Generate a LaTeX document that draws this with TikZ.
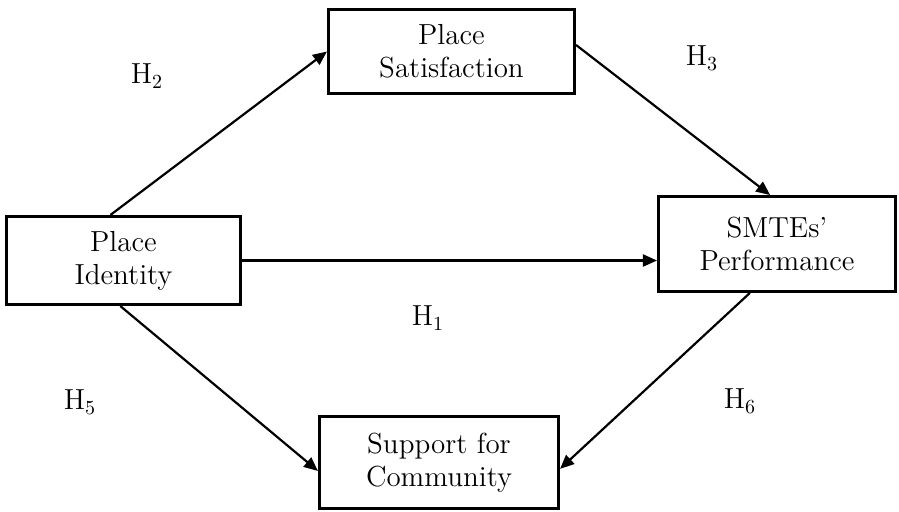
\documentclass[tikz,border=0pt]{standalone}
\usepackage{fontspec}
\usepackage{amsmath}
\usetikzlibrary{arrows.meta}

\tikzset{
  box/.style={rectangle, draw, line width=1.65pt, align=center, inner sep=0pt},
  arr/.style={-{Triangle[length=7pt,width=6pt]}, line width=1.1pt},
}

\begin{document}
\begin{tikzpicture}[x=0.5pt, y=-0.5pt, font=\fontsize{14.5}{16.5}\selectfont]
\useasboundingbox (0,0) rectangle (899,511);

\node (iden) at (123.5,260.5) [box, minimum width=116.9pt, minimum height=43.9pt] {Place\\Identity};
\node (sat) at (451.5,51.5) [box, minimum width=122.9pt, minimum height=41.9pt] {Place\\Satisfaction};
\node (smtes) at (777,244) [box, minimum width=118.4pt, minimum height=47.3pt] {SMTEs'\\Performance};
\node (supp) at (439,462.5) [box, minimum width=119.4pt, minimum height=45.9pt] {Support for\\Community};

	\draw[arr] (iden.106) -- (sat.west);
	\draw[arr] (sat.3) -- (smtes.98);
	\draw[arr] (iden.east) -- (iden.east -| smtes.west);
	\draw[arr] (iden.266) -- (supp.184);
	\draw[arr] (smtes.241) -- (supp.-3.5);

\node (h1) at (428,318) {H$_1$};
\node (h2) at (147,76) {H$_2$};
\node (h3) at (702,58) {H$_3$};
\node (h5) at (80,402) {H$_5$};
\node (h6) at (740,401) {H$_6$};

\end{tikzpicture}
\end{document}
